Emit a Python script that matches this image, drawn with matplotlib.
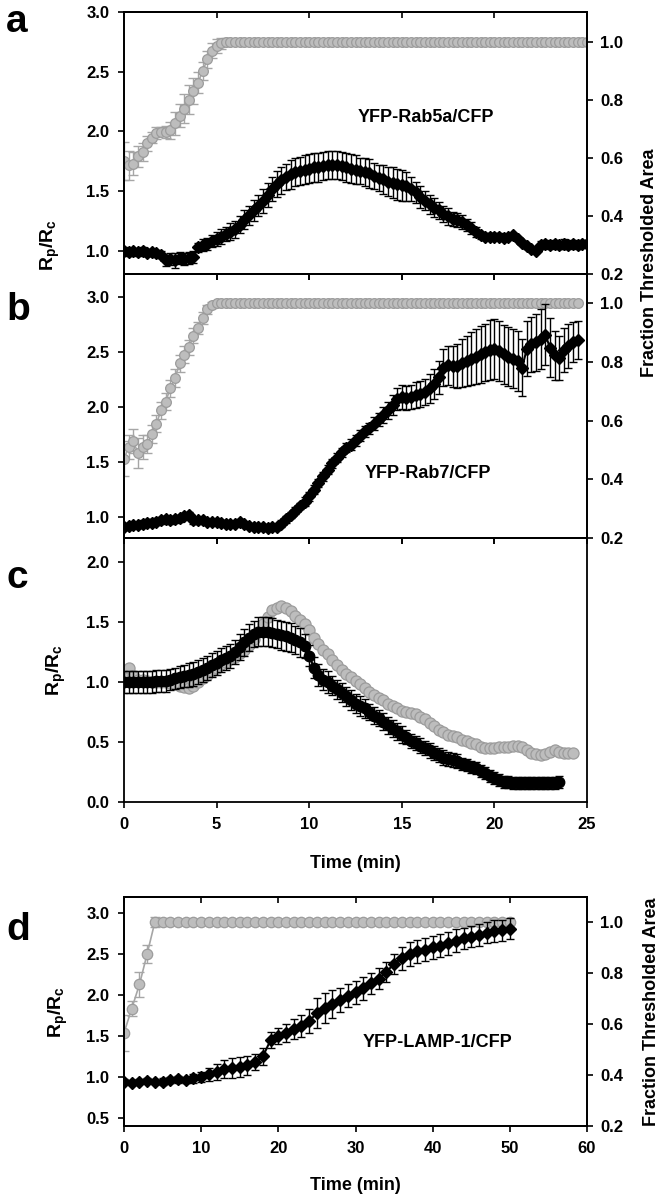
import matplotlib
matplotlib.use('Agg')
import matplotlib.pyplot as plt
import numpy as np

plt.rcParams['font.family'] = ['Liberation Sans', 'DejaVu Sans']
plt.rcParams['font.weight'] = 'bold'
plt.rcParams['axes.labelweight'] = 'bold'
plt.rcParams['mathtext.fontset'] = 'custom'
plt.rcParams['mathtext.rm'] = 'Liberation Sans:bold'
plt.rcParams['mathtext.it'] = 'Liberation Sans:bold'
plt.rcParams['mathtext.bf'] = 'Liberation Sans:bold'

# ---------------- data ----------------
# Panel a: YFP-Rab5a/CFP
ratio_a = [
    1.00, 0.99, 1.00, 0.99, 1.00, 0.98, 0.99, 0.98, 0.97,
    0.92, 0.93, 0.92, 0.94, 0.93, 0.94, 0.95,
    1.03, 1.05, 1.06, 1.08, 1.10,
    1.12, 1.14, 1.16, 1.18,
    1.22, 1.26, 1.30, 1.34,
    1.38, 1.42, 1.47, 1.52,
    1.56, 1.59, 1.62, 1.64,
    1.66, 1.67, 1.68, 1.69,
    1.70, 1.70, 1.71, 1.72,
    1.72, 1.72, 1.71, 1.70,
    1.69, 1.68, 1.67, 1.66,
    1.65, 1.63, 1.61, 1.60,
    1.58, 1.57, 1.56, 1.55,
    1.54, 1.52, 1.49, 1.45,
    1.42, 1.39, 1.36, 1.34,
    1.31, 1.29, 1.27, 1.26,
    1.24, 1.22, 1.19, 1.16,
    1.13, 1.12, 1.12, 1.12,
    1.12, 1.11, 1.12, 1.13,
    1.10, 1.07, 1.04, 1.02,
    1.00, 1.05, 1.06, 1.05,
    1.06, 1.05, 1.06, 1.05,
    1.06, 1.05, 1.06, 1.06]
ratio_a_err = [
    0.03, 0.03, 0.02, 0.03, 0.03, 0.02, 0.03, 0.03, 0.03,
    0.05, 0.05, 0.06, 0.05, 0.05, 0.05, 0.05,
    0.04, 0.05, 0.05, 0.05, 0.06,
    0.06, 0.06, 0.07, 0.07,
    0.07, 0.08, 0.08, 0.09,
    0.09, 0.10, 0.10, 0.10,
    0.11, 0.11, 0.11, 0.12,
    0.12, 0.12, 0.12, 0.12,
    0.12, 0.12, 0.12, 0.12,
    0.12, 0.12, 0.12, 0.12,
    0.12, 0.12, 0.11, 0.12,
    0.12, 0.11, 0.11, 0.12,
    0.12, 0.13, 0.13, 0.13,
    0.12, 0.10, 0.09, 0.09,
    0.08, 0.08, 0.08, 0.07,
    0.07, 0.07, 0.06, 0.06,
    0.06, 0.05, 0.05, 0.04,
    0.03, 0.03, 0.03, 0.03,
    0.03, 0.03, 0.02, 0.02,
    0.02, 0.02, 0.02, 0.02,
    0.02, 0.03, 0.03, 0.03,
    0.03, 0.03, 0.04, 0.03,
    0.03, 0.03, 0.03, 0.03]
frac_a = [
    0.59, 0.575, 0.58, 0.605, 0.62, 0.65, 0.67, 0.685, 0.69, 0.69,
    0.695, 0.72, 0.745, 0.77, 0.80, 0.83, 0.86, 0.90, 0.94, 0.97,
    0.985, 0.995,
    1.0, 1.0, 1.0, 1.0, 1.0, 1.0, 1.0, 1.0, 1.0, 1.0,
    1.0, 1.0, 1.0, 1.0, 1.0, 1.0, 1.0, 1.0, 1.0, 1.0,
    1.0, 1.0, 1.0, 1.0, 1.0, 1.0, 1.0, 1.0, 1.0, 1.0,
    1.0, 1.0, 1.0, 1.0, 1.0, 1.0, 1.0, 1.0, 1.0, 1.0,
    1.0, 1.0, 1.0, 1.0, 1.0, 1.0, 1.0, 1.0, 1.0, 1.0,
    1.0, 1.0, 1.0, 1.0, 1.0, 1.0, 1.0, 1.0, 1.0, 1.0,
    1.0, 1.0, 1.0, 1.0, 1.0, 1.0, 1.0, 1.0, 1.0, 1.0,
    1.0, 1.0, 1.0, 1.0, 1.0, 1.0, 1.0, 1.0, 1.0]
frac_a_err = [
    0.065, 0.05, 0.04, 0.035, 0.03, 0.025, 0.02, 0.02, 0.015, 0.02,
    0.03, 0.04, 0.04, 0.05, 0.05, 0.045, 0.035, 0.03, 0.03, 0.025,
    0.025, 0.02, 0.015, 0.01, 0.005,
    0, 0, 0, 0, 0, 0, 0, 0, 0, 0, 0, 0, 0, 0, 0, 0, 0, 0, 0, 0,
    0, 0, 0, 0, 0, 0, 0, 0, 0, 0, 0, 0, 0, 0, 0, 0, 0, 0, 0, 0,
    0, 0, 0, 0, 0, 0, 0, 0, 0, 0, 0, 0, 0, 0, 0, 0, 0, 0, 0, 0,
    0, 0, 0, 0, 0, 0, 0, 0, 0, 0, 0, 0, 0, 0, 0, 0]

# Panel b: YFP-Rab7/CFP
ratio_b = [
    0.91, 0.92, 0.93, 0.93, 0.94, 0.95, 0.95, 0.96, 0.97,
    0.98, 0.97, 0.98, 0.99,
    1.01, 1.02, 0.97, 0.97,
    0.97, 0.96, 0.96, 0.96,
    0.95, 0.94, 0.94, 0.94,
    0.96, 0.94, 0.92, 0.91,
    0.91, 0.91, 0.90, 0.91,
    0.91, 0.94, 0.98, 1.02,
    1.06, 1.10, 1.14, 1.19,
    1.25, 1.31, 1.37, 1.43,
    1.49, 1.54, 1.59, 1.63,
    1.66, 1.70, 1.74, 1.78,
    1.81, 1.85, 1.89, 1.93,
    1.97, 2.02, 2.07, 2.09,
    2.08, 2.09, 2.11, 2.12,
    2.14, 2.17, 2.21, 2.27,
    2.36, 2.38, 2.37, 2.37,
    2.40, 2.42, 2.44, 2.46,
    2.48, 2.50, 2.52, 2.53,
    2.51, 2.48, 2.46, 2.44,
    2.42, 2.36, 2.53, 2.57,
    2.59, 2.62, 2.66, 2.54,
    2.47, 2.45, 2.52, 2.56,
    2.59, 2.61]
ratio_b_err = [
    0.03, 0.03, 0.03, 0.03, 0.03, 0.03, 0.03, 0.03, 0.03,
    0.03, 0.03, 0.03, 0.03,
    0.03, 0.03, 0.03, 0.03,
    0.02, 0.02, 0.02, 0.02,
    0.02, 0.02, 0.02, 0.02,
    0.02, 0.02, 0.02, 0.02,
    0.03, 0.03, 0.03, 0.03,
    0.03, 0.03, 0.03, 0.03,
    0.03, 0.03, 0.04, 0.04,
    0.04, 0.04, 0.04, 0.04,
    0.04, 0.04, 0.04, 0.04,
    0.05, 0.05, 0.05, 0.05,
    0.05, 0.06, 0.06, 0.07,
    0.08, 0.09, 0.10, 0.11,
    0.11, 0.11, 0.12, 0.12,
    0.12, 0.13, 0.14, 0.15,
    0.17, 0.18, 0.19, 0.20,
    0.22, 0.23, 0.24, 0.25,
    0.26, 0.26, 0.27, 0.27,
    0.27, 0.27, 0.27, 0.27,
    0.27, 0.26, 0.25, 0.25,
    0.26, 0.27, 0.28, 0.27,
    0.22, 0.20, 0.20, 0.20,
    0.18, 0.17]
frac_b = [
    0.47, 0.51, 0.53, 0.49, 0.51, 0.52, 0.555, 0.59, 0.635, 0.665,
    0.71, 0.745, 0.795, 0.825, 0.85, 0.89, 0.915, 0.95, 0.98, 0.995,
    1.0, 1.0, 1.0, 1.0, 1.0, 1.0, 1.0, 1.0, 1.0, 1.0,
    1.0, 1.0, 1.0, 1.0, 1.0, 1.0, 1.0, 1.0, 1.0, 1.0,
    1.0, 1.0, 1.0, 1.0, 1.0, 1.0, 1.0, 1.0, 1.0, 1.0,
    1.0, 1.0, 1.0, 1.0, 1.0, 1.0, 1.0, 1.0, 1.0, 1.0,
    1.0, 1.0, 1.0, 1.0, 1.0, 1.0, 1.0, 1.0, 1.0, 1.0,
    1.0, 1.0, 1.0, 1.0, 1.0, 1.0, 1.0, 1.0, 1.0, 1.0,
    1.0, 1.0, 1.0, 1.0, 1.0, 1.0, 1.0, 1.0, 1.0, 1.0,
    1.0, 1.0, 1.0, 1.0, 1.0, 1.0, 1.0, 1.0, 1.0]
frac_b_err = [
    0.06, 0.04, 0.04, 0.05, 0.04, 0.03, 0.03, 0.03, 0.03, 0.03,
    0.03, 0.03, 0.03, 0.03, 0.025, 0.025, 0.02, 0.02, 0.015, 0.01,
    0.005,
    0, 0, 0, 0, 0, 0, 0, 0, 0, 0, 0, 0, 0, 0, 0, 0, 0, 0, 0, 0,
    0, 0, 0, 0, 0, 0, 0, 0, 0, 0, 0, 0, 0, 0, 0, 0, 0, 0, 0, 0,
    0, 0, 0, 0, 0, 0, 0, 0, 0, 0, 0, 0, 0, 0, 0, 0, 0, 0, 0, 0,
    0, 0, 0, 0, 0, 0, 0, 0, 0, 0, 0, 0, 0, 0, 0, 0, 0, 0]

# Panel c
ratio_c = [
    1.00, 1.00, 1.00, 1.00, 1.00, 1.00, 1.00, 1.01, 1.01,
    1.01, 1.02, 1.03, 1.04,
    1.05, 1.06, 1.07, 1.08,
    1.10, 1.12, 1.14, 1.16,
    1.18, 1.20, 1.22, 1.25,
    1.29, 1.33, 1.37, 1.40,
    1.42, 1.42, 1.42, 1.41,
    1.40, 1.39, 1.38, 1.37,
    1.35, 1.33, 1.30, 1.22,
    1.12, 1.06, 1.02, 1.00,
    0.97, 0.94, 0.91, 0.88,
    0.85, 0.82, 0.80, 0.78,
    0.75, 0.72, 0.70, 0.67,
    0.64, 0.61, 0.59, 0.56,
    0.54, 0.51, 0.49, 0.47,
    0.45, 0.43, 0.41, 0.39,
    0.37, 0.36, 0.35, 0.34,
    0.32, 0.31, 0.29, 0.28,
    0.26, 0.24, 0.22, 0.20,
    0.18, 0.17, 0.17, 0.16,
    0.16, 0.16, 0.16, 0.16,
    0.16, 0.16, 0.16, 0.16,
    0.16, 0.17]
ratio_c_err = [
    0.09, 0.09, 0.09, 0.09, 0.09, 0.09, 0.09, 0.09, 0.09,
    0.09, 0.09, 0.09, 0.09,
    0.09, 0.10, 0.10, 0.10,
    0.10, 0.10, 0.10, 0.10,
    0.10, 0.10, 0.10, 0.10,
    0.11, 0.11, 0.11, 0.11,
    0.12, 0.12, 0.12, 0.12,
    0.12, 0.12, 0.12, 0.12,
    0.12, 0.12, 0.10, 0.09,
    0.09, 0.09, 0.09, 0.09,
    0.08, 0.08, 0.08, 0.08,
    0.08, 0.08, 0.08, 0.08,
    0.07, 0.07, 0.07, 0.07,
    0.07, 0.07, 0.07, 0.07,
    0.06, 0.06, 0.06, 0.06,
    0.06, 0.06, 0.06, 0.06,
    0.06, 0.06, 0.06, 0.06,
    0.05, 0.05, 0.05, 0.05,
    0.05, 0.05, 0.05, 0.05,
    0.05, 0.05, 0.05, 0.05,
    0.05, 0.05, 0.05, 0.05,
    0.05, 0.05, 0.05, 0.05,
    0.05, 0.05]
gray_c = [
    1.08, 1.12, 1.05, 1.02, 1.02, 1.01, 1.00, 1.00, 1.00,
    1.00, 0.99, 0.98, 0.97,
    0.96, 0.95, 0.97, 1.00,
    1.03, 1.06, 1.09, 1.12,
    1.15, 1.17, 1.19, 1.21,
    1.24, 1.27, 1.31, 1.36,
    1.42, 1.48, 1.54, 1.60,
    1.62, 1.63, 1.62, 1.59,
    1.55, 1.52, 1.48, 1.43,
    1.37, 1.32, 1.27, 1.23,
    1.18, 1.14, 1.10, 1.07,
    1.04, 1.01, 0.98, 0.95,
    0.92, 0.89, 0.87, 0.85,
    0.82, 0.80, 0.78, 0.76,
    0.75, 0.74, 0.73, 0.71,
    0.69, 0.66, 0.63, 0.60,
    0.58, 0.56, 0.55, 0.54,
    0.52, 0.51, 0.49, 0.48,
    0.46, 0.45, 0.45, 0.45,
    0.46, 0.46, 0.46, 0.47,
    0.47, 0.46, 0.43, 0.41,
    0.40, 0.39, 0.40, 0.42,
    0.43, 0.42, 0.41, 0.41,
    0.41]

# Panel d: YFP-LAMP-1/CFP (1-min sampling)
ratio_d = [
    0.94, 0.93, 0.94, 0.95, 0.94, 0.94, 0.96, 0.97, 0.96, 0.98,
    1.00, 1.03, 1.06, 1.09, 1.11, 1.12, 1.14, 1.18, 1.25, 1.45,
    1.50, 1.54, 1.58, 1.62, 1.68, 1.78, 1.84, 1.89, 1.94, 1.99,
    2.03, 2.08, 2.14, 2.20, 2.28, 2.38, 2.45, 2.50, 2.53, 2.55,
    2.58, 2.60, 2.63, 2.66, 2.69, 2.71, 2.73, 2.76, 2.78, 2.79, 2.81]
ratio_d_err = [
    0.03, 0.03, 0.03, 0.03, 0.03, 0.04, 0.04, 0.04, 0.04, 0.05,
    0.06, 0.08, 0.10, 0.11, 0.12, 0.12, 0.12, 0.10, 0.10, 0.10,
    0.10, 0.11, 0.12, 0.13, 0.15, 0.18, 0.18, 0.17, 0.15, 0.14,
    0.14, 0.14, 0.13, 0.13, 0.12, 0.12, 0.14, 0.15, 0.14, 0.14,
    0.14, 0.14, 0.14, 0.14, 0.13, 0.13, 0.13, 0.13, 0.13, 0.13, 0.13]
frac_d = [
    0.565, 0.66, 0.755, 0.875,
    1.0, 1.0, 1.0, 1.0, 1.0, 1.0, 1.0, 1.0, 1.0, 1.0,
    1.0, 1.0, 1.0, 1.0, 1.0, 1.0, 1.0, 1.0, 1.0, 1.0,
    1.0, 1.0, 1.0, 1.0, 1.0, 1.0, 1.0, 1.0, 1.0, 1.0,
    1.0, 1.0, 1.0, 1.0, 1.0, 1.0, 1.0, 1.0, 1.0, 1.0,
    1.0, 1.0, 1.0, 1.0, 1.0, 1.0, 1.0]
frac_d_err = [
    0.07, 0.03, 0.05, 0.035, 0.02,
    0, 0, 0, 0, 0, 0, 0, 0, 0, 0, 0, 0, 0, 0, 0, 0, 0, 0, 0, 0,
    0, 0, 0, 0, 0, 0, 0, 0, 0, 0, 0, 0, 0, 0, 0, 0, 0, 0, 0, 0,
    0, 0, 0, 0, 0, 0]

labels = {'a': 'YFP-Rab5a/CFP', 'b': 'YFP-Rab7/CFP', 'd': 'YFP-LAMP-1/CFP'}
left_ticks_ab = [1.0, 1.5, 2.0, 2.5, 3.0]
right_ticks = [0.2, 0.4, 0.6, 0.8, 1.0]

# ---------------- figure ----------------
W, H = 663, 1199
fig = plt.figure(figsize=(W / 100, H / 100), dpi=100)


def box(l, t, r, b):
    return [l / W, 1 - b / H, (r - l) / W, (b - t) / H]


GRAY_FACE = '#bdbdbd'
GRAY_EDGE = '#9c9c9c'
GRAY_BAR = '#a6a6a6'
TICK_FS = 12
LAB_FS = 13


def style(ax):
    for s in ax.spines.values():
        s.set_linewidth(1.3)
    ax.tick_params(axis='y', direction='out', length=4.5, width=1.2,
                   labelsize=TICK_FS, pad=6)
    ax.tick_params(axis='x', which='both', bottom=True, top=True,
                   length=4.5, width=1.2, labelsize=TICK_FS, pad=6)
    ax.tick_params(axis='x', direction='out')


def top_in(ax):
    # inward ticks on the top spine
    sec = ax.secondary_xaxis('top')
    sec.set_xticks(ax.get_xticks())
    sec.tick_params(direction='in', length=4.5, width=1.2, labelsize=0)
    sec.set_xticklabels([])
    sec.spines['top'].set_linewidth(1.3)
    ax.tick_params(axis='x', top=False)


def draw_black(ax, t, v, e, marker='D', ms=5):
    t = np.asarray(t, float); v = np.asarray(v, float); e = np.asarray(e, float)
    ax.errorbar(t, v, yerr=e, fmt='none', ecolor='black', elinewidth=1.0,
                capsize=3.2, capthick=1.0, zorder=3)
    ax.plot(t, v, color='black', lw=1.5, marker=marker, ms=ms,
            mfc='black', mec='black', zorder=4)


def draw_gray(ax, t, v, e, ms=6):
    t = np.asarray(t, float); v = np.asarray(v, float); e = np.asarray(e, float)
    m = e > 0
    ax.errorbar(t[m], v[m], yerr=e[m], fmt='none', ecolor=GRAY_BAR,
                elinewidth=1.0, capsize=3.5, capthick=1.0, zorder=2)
    ax.plot(t, v, color=GRAY_BAR, lw=1.2, marker='o', ms=ms,
            mfc=GRAY_FACE, mec=GRAY_EDGE, mew=0.9, zorder=2.5)


def twin_panel(rect, ylim_l, ylim_r, xlim, xticks, yticks_l,
               t_black, black, black_err, t_gray, gray, gray_err,
               label, label_xy, show_xlabels=False, black_marker='D',
               black_ms=5, gray_ms=6):
    ax = fig.add_axes(rect)
    ax2 = ax.twinx()
    ax.set_zorder(ax2.get_zorder() + 1)
    ax.patch.set_visible(False)
    draw_gray(ax2, t_gray, gray, gray_err, ms=gray_ms)
    draw_black(ax, t_black, black, black_err, marker=black_marker, ms=black_ms)
    ax.set_xlim(*xlim)
    ax.set_ylim(*ylim_l)
    ax2.set_ylim(*ylim_r)
    ax.set_xticks(xticks)
    ax.set_yticks(yticks_l)
    ax.set_yticklabels([f'{v:.1f}' for v in yticks_l])
    ax2.set_yticks(right_ticks)
    ax2.set_yticklabels([f'{v:.1f}' for v in right_ticks])
    style(ax)
    for s in ax2.spines.values():
        s.set_linewidth(1.3)
    ax2.tick_params(axis='y', direction='out', length=4.5, width=1.2,
                    labelsize=TICK_FS, pad=5)
    if not show_xlabels:
        ax.set_xticklabels([])
    else:
        ax.set_xticklabels([str(int(v)) for v in xticks])
    top_in(ax)
    ax.text(label_xy[0], label_xy[1], label, ha='center', va='center',
            fontsize=LAB_FS, fontweight='bold', zorder=6)
    return ax, ax2


t_a = np.linspace(0, 25, len(ratio_a))
tg_a = np.linspace(0, 25, len(frac_a))
t_b = np.linspace(0, 24.5, len(ratio_b))
tg_b = np.linspace(0, 24.5, len(frac_b))
t_c = np.linspace(0, 23.5, len(ratio_c))
tg_c = np.linspace(0, 24.25, len(gray_c))
t_d = np.linspace(0, 50, len(ratio_d))
tg_d = np.linspace(0, 50, len(frac_d))

L, R = 124, 587
# panel a
twin_panel(box(L, 12, R, 274), (0.807, 3.0), (0.2, 1.103), (0, 25),
           [0, 5, 10, 15, 20, 25], left_ticks_ab,
           t_a, ratio_a, ratio_a_err, tg_a, frac_a, frac_a_err,
           labels['a'], (16.3, 2.12), black_ms=6, gray_ms=7)
# panel b
twin_panel(box(L, 274, R, 538), (0.81, 3.21), (0.2, 1.10), (0, 25),
           [0, 5, 10, 15, 20, 25], left_ticks_ab,
           t_b, ratio_b, ratio_b_err, tg_b, frac_b, frac_b_err,
           labels['b'], (16.4, 1.40), black_ms=6, gray_ms=7)

# panel c
axc = fig.add_axes(box(L, 538, R, 802))
axc.plot(tg_c, gray_c, linestyle='none', marker='o', ms=8,
         mfc=GRAY_FACE, mec=GRAY_EDGE, mew=0.9, zorder=2)
draw_black(axc, t_c, ratio_c, ratio_c_err, marker='o', ms=7.5)
axc.set_xlim(0, 25)
axc.set_ylim(0, 2.2)
axc.set_xticks([0, 5, 10, 15, 20, 25])
axc.set_xticklabels(['0', '5', '10', '15', '20', '25'])
axc.set_yticks([0.0, 0.5, 1.0, 1.5, 2.0])
axc.set_yticklabels(['0.0', '0.5', '1.0', '1.5', '2.0'])
style(axc)
top_in(axc)

# panel d
twin_panel(box(L, 897, R, 1126), (0.40, 3.195), (0.2, 1.098), (0, 60),
           [0, 10, 20, 30, 40, 50, 60], [0.5, 1.0, 1.5, 2.0, 2.5, 3.0],
           t_d, ratio_d, ratio_d_err, tg_d, frac_d, frac_d_err,
           labels['d'], (40.6, 1.42), show_xlabels=True,
           black_ms=6, gray_ms=7.5)

# ---------------- figure texts ----------------
ylab = r'$\mathrm{R_p/R_c}$'
fig.text(50 / W, 1 - 245 / H, ylab, rotation=90, ha='center', va='center',
         fontsize=LAB_FS + 1)
fig.text(56 / W, 1 - 670 / H, ylab, rotation=90, ha='center', va='center',
         fontsize=LAB_FS + 1)
fig.text(58 / W, 1 - 1012 / H, ylab, rotation=90, ha='center', va='center',
         fontsize=LAB_FS + 1)
fig.text(650 / W, 1 - 263 / H, 'Fraction Thresholded Area', rotation=90,
         ha='center', va='center', fontsize=LAB_FS)
fig.text(651 / W, 1 - 1012 / H, 'Fraction Thresholded Area', rotation=90,
         ha='center', va='center', fontsize=LAB_FS)
fig.text(355 / W, 1 - 864 / H, 'Time (min)', ha='center', va='center',
         fontsize=LAB_FS)
fig.text(355 / W, 1 - 1185 / H, 'Time (min)', ha='center', va='center',
         fontsize=LAB_FS)

for letter, yb in [('a', 32), ('b', 320), ('c', 588), ('d', 940)]:
    fig.text(6 / W, 1 - yb / H, letter, ha='left', va='baseline',
             fontsize=28, fontweight='bold')

fig.savefig('out.png', dpi=100)
